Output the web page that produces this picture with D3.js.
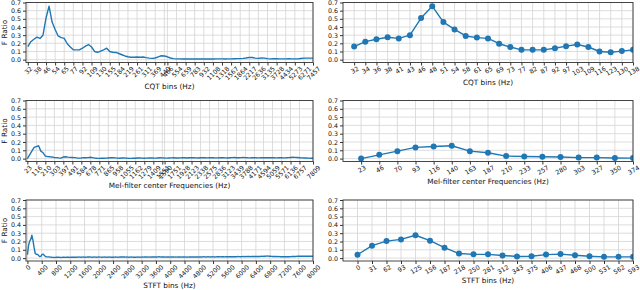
<!DOCTYPE html>
<html><head><meta charset="utf-8">
<script src="https://cdn.jsdelivr.net/npm/d3@7"></script>
<style>
body{margin:0;background:#fff}
svg{display:block}
</style>
</head><body>
<svg id="c" width="640" height="290"></svg>
<script>
// ---------------- DATA ----------------
const cqtValues = [
 0.16,0.22,0.25,0.275,0.26,0.30,0.51,0.655,0.46,0.37,0.29,0.27,0.26,0.195,0.155,0.12,0.12,0.12,0.14,0.165,0.185,0.155,0.10,0.09,0.105,0.12,
 0.14,0.10,0.09,0.088,0.075,0.06,0.045,0.035,0.03,0.03,0.032,0.03,0.033,0.025,0.018,0.015,
 0.02,0.035,0.048,0.045,0.035,0.02,0.012,0.010,0.009,0.008,0.009,0.008,0.007,0.008,0.007,0.008,
 0.009,0.008,0.007,0.008,0.009,0.010,0.009,0.008,0.009,0.010,0.011,0.012,0.013,0.015,0.020,0.028,
 0.026,0.018,0.016,0.020,0.018,0.012,0.010,0.011,0.012,0.010,0.009,0.010,0.011,0.010,0.009,0.010,
 0.014,0.018,0.018,0.019,0.018
];
const cqtTickIdx = [0,3,6,9,12,15,18,21,24,27,30,33,36,39,42,45,46,49,52,55,58,61,64,67,70,73,76,79,82,85,88,91,94];
const cqtTickLabels = ["32","38","46","54","65","77","92","109","130","155","184","219","261","311","369","440","466","554","659","783","932","1108","1318","1567","1864","2217","2636","3135","3728","4434","5273","6271","7457"];
const cqtZoomLabels = ["32","34","36","38","41","43","46","48","51","54","58","61","65","69","73","77","82","87","92","97","103","109","116","123","130","138"];

const melValues = [
 0.0,0.045,0.09,0.135,0.145,0.155,0.09,0.07,0.03,0.025,0.022,0.02,0.012,0.012,0.008,0.006,
 0.020,0.022,0.018,0.015,0.014,0.012,0.008,0.006,0.008,0.012,0.010,0.012,0.016,0.012,0.006,0.004,
 0.003,0.004,0.005,0.006,0.008,0.010,0.011,0.009,0.006,0.005,0.007,0.009,0.006,0.004,0.003,0.004,
 0.005,0.007,0.008,0.006,0.005,0.006,0.008,0.009,0.007,0.006,0.008,0.010,0.009,0.007,0.006,0.008,
 0.009,0.010,0.008,0.007,0.009,0.011,0.010,0.008,0.010,0.012,0.011,0.009,0.008,0.010,0.011,0.010,
 0.009,0.011,0.012,0.010,0.009,0.010,0.012,0.011,0.009,0.008,0.010,0.012,0.013,0.011,0.010,0.012,
 0.013,0.012,0.010,0.009,0.011,0.012,0.010,0.009,0.011,0.012,0.011,0.010,0.011,0.012,0.010,0.009,
 0.010,0.011,0.009,0.010,0.012,0.014,0.016,0.015,0.013,0.011,0.009,0.008,0.007,0.006,0.005,0.005
];
const melTickIdx = [0,4,8,12,16,20,24,28,32,36,40,44,48,52,56,60,61,65,69,73,77,81,85,89,93,97,101,105,109,113,117,121,127];
const melTickLabels = ["23","116","210","303","397","491","584","678","771","865","958","1055","1162","1279","1409","1551","1590","1751","1928","2123","2338","2575","2836","3123","3439","3788","4171","4594","5059","5571","6136","6757","7809"];
const melZoomLabels = ["23","46","70","93","116","140","163","187","210","233","257","280","303","327","350","374"];

const stftValues = [
 0.04,0.15,0.205,0.225,0.275,0.21,0.125,0.055,0.045,0.045,0.032,0.02,0.022,0.042,0.048,0.035,0.022,0.015,0.015,0.015,
 0.013,0.012,0.010,0.009,0.008,0.009,0.010,0.011,0.010,0.009,0.008,0.009,0.010,0.010,0.009,0.010,
 0.011,0.010,0.009,0.010,0.011,0.012,0.011,0.010,0.011,0.012,0.013,0.012,0.011,0.012,0.013,0.012,
 0.011,0.012,0.013,0.014,0.013,0.012,0.011,0.012,0.013,0.012,0.011,0.012,0.013,0.012,0.012,0.011,
 0.012,0.013,0.012,0.011,0.012,0.013,0.012,0.011,0.012,0.011,0.012,0.013,0.012,0.011,0.012,0.013,
 0.014,0.015,0.014,0.013,0.012,0.013,0.012,0.011,0.012,0.013,0.012,0.011,0.012,0.011,0.012,0.013,
 0.012,0.011,0.012,0.013,0.012,0.013,0.014,0.013,0.012,0.013,0.012,0.013,0.014,0.015,0.014,0.013,
 0.014,0.015,0.016,0.015,0.014,0.013,0.014,0.013,0.012,0.013,0.014,0.013,0.012,0.013,0.014,0.013,
 0.012,0.013,0.012,0.013,0.014,0.013,0.012,0.013,0.014,0.013,0.012,0.013,0.012,0.013,0.014,0.013,
 0.014,0.015,0.014,0.013,0.014,0.015,0.014,0.013,0.014,0.015,0.016,0.015,0.014,0.015,0.016,0.015,
 0.014,0.015,0.016,0.015,0.014,0.015,0.016,0.017,0.016,0.015,0.016,0.017,0.016,0.015,0.016,0.017,
 0.016,0.017,0.018,0.017,0.016,0.017,0.018,0.017,0.018,0.019,0.018,0.017,0.018,0.019,0.018,0.019,
 0.018,0.019,0.020,0.019,0.018,0.019,0.020,0.021,0.020,0.019,0.020,0.021,0.020,0.021,0.022,0.021,
 0.022,0.023,0.024,0.025,0.024,0.023,0.022,0.021,0.020,0.019,0.020,0.019,0.018,0.019,0.018,0.017,
 0.018,0.017,0.018,0.017,0.016,0.017,0.018,0.017,0.018,0.019,0.020,0.019,0.020,0.021,0.022,0.023,
 0.024,0.023,0.024,0.023,0.022,0.023,0.024,0.023,0.022,0.023,0.022,0.023,0.022
];
const stftBinHz = 31.25;
const stftTickHz = [0,400,800,1200,1600,2000,2400,2800,3200,3600,4000,4400,4800,5200,5600,6000,6400,6800,7200,7600,8000];
const stftTickLabels = ["0","400","800","1200","1600","2000","2400","2800","3200","3600","4000","4400","4800","5200","5600","6000","6400","6800","7200","7600","8000"];
const stftZoomLabels = ["0","31","62","93","125","156","187","218","250","281","312","343","375","406","437","468","500","531","562","593"];

const yTicks = [0,0.1,0.2,0.3,0.4,0.5,0.6,0.7];
const yTickLabels = ["0.0","0.1","0.2","0.3","0.4","0.5","0.6","0.7"];

// ---------------- DRAW ----------------
const FONT = "DejaVu Sans, sans-serif";
const TICK_FS = 6.3;
const LABEL_FS = 7.3;
const svg = d3.select("#c");
const defs = svg.append("defs");
let clipId = 0;

function panel(o){
  const g = svg.append("g");
  const x = d3.scaleLinear().domain(o.xDomain).range([o.x0, o.x0 + o.w]);
  const y = d3.scaleLinear().domain([-0.035, 0.7]).range([o.y0 + o.h, o.y0]);
  const id = "clip" + (clipId++);
  defs.append("clipPath").attr("id", id).append("rect")
    .attr("x", o.x0).attr("y", o.y0).attr("width", o.w).attr("height", o.h);

  // grid
  g.append("g").selectAll("line").data(o.tickPos).join("line")
    .attr("x1", d => x(d)).attr("x2", d => x(d))
    .attr("y1", o.y0).attr("y2", o.y0 + o.h)
    .attr("stroke", "#d4d4d4").attr("stroke-width", 0.8);
  g.append("g").selectAll("line").data(yTicks).join("line")
    .attr("x1", o.x0).attr("x2", o.x0 + o.w)
    .attr("y1", d => y(d)).attr("y2", d => y(d))
    .attr("stroke", "#d4d4d4").attr("stroke-width", 0.8);

  // series
  const pts = o.values.map((v, i) => [o.xOf(i), v]);
  const plot = g.append("g").attr("clip-path", `url(#${id})`);
  plot.append("path").datum(pts)
    .attr("d", d3.line().x(d => x(d[0])).y(d => y(d[1])))
    .attr("fill", "none").attr("stroke", "#1f77b4")
    .attr("stroke-width", 1.4).attr("stroke-linejoin", "round");
  if (o.markers) {
    plot.append("g").selectAll("circle").data(pts).join("circle")
      .attr("cx", d => x(d[0])).attr("cy", d => y(d[1])).attr("r", 3)
      .attr("fill", "#1f77b4");
  }

  // frame
  g.append("rect").attr("x", o.x0).attr("y", o.y0).attr("width", o.w).attr("height", o.h)
    .attr("fill", "none").attr("stroke", "#333").attr("stroke-width", 0.9);

  // y axis
  const ay = g.append("g").attr("transform", `translate(${o.x0},0)`)
    .call(d3.axisLeft(y).tickValues(yTicks).tickFormat((d, i) => yTickLabels[i]).tickSize(3).tickPadding(2));
  ay.select(".domain").remove();
  ay.attr("font-family", FONT).attr("font-size", TICK_FS);
  ay.selectAll("line").attr("stroke", "#333");
  ay.selectAll("text").attr("fill", "#111");

  // x axis
  const fs = TICK_FS;
  const ax = g.append("g").attr("transform", `translate(0,${o.y0 + o.h})`)
    .call(d3.axisBottom(x).tickValues(o.tickPos).tickFormat((d, i) => o.tickLabels[i]).tickSize(3));
  ax.select(".domain").remove();
  ax.attr("font-family", FONT).attr("font-size", fs);
  ax.selectAll("line").attr("stroke", "#333");
  const th = o.rot * Math.PI / 180;
  ax.selectAll("text").each(function(){
    const t = d3.select(this);
    t.attr("y", null).attr("dy", null).attr("x", null).attr("fill", "#111");
    const L = this.getComputedTextLength();
    const fh = fs * 0.85;
    const H = L * Math.sin(th) + fh * Math.cos(th);
    t.attr("text-anchor", "middle").attr("dominant-baseline", "central")
      .attr("transform", `translate(0,${3 + H / 2}) rotate(${-o.rot})`);
  });
  const bb = ax.node().getBBox();
  g.append("text")
    .attr("x", o.x0 + o.w / 2)
    .attr("y", o.y0 + o.h + bb.y + bb.height + 2.5 + LABEL_FS * 0.76)
    .attr("text-anchor", "middle").attr("font-family", FONT).attr("font-size", LABEL_FS)
    .attr("fill", "#111").text(o.xlabel);

  if (o.ylabel) {
    g.append("text")
      .attr("transform", `translate(${o.x0 - 19},${o.y0 + o.h / 2}) rotate(-90)`)
      .attr("text-anchor", "middle").attr("font-family", FONT).attr("font-size", LABEL_FS)
      .attr("fill", "#111").text(o.ylabel);
  }
}

const rows = [{y0: 2.5, h: 60}, {y0: 100.5, h: 61}, {y0: 200, h: 61}];
const L = {x0: 26, w: 287};
const R = {x0: 343, w: 290};

// Row 1: CQT
panel({x0: L.x0, w: L.w, y0: rows[0].y0, h: rows[0].h, values: cqtValues,
  xOf: i => i, xDomain: [-0.6, cqtValues.length - 1],
  tickPos: cqtTickIdx, tickLabels: cqtTickLabels, rot: 45,
  xlabel: "CQT bins (Hz)", ylabel: "F Ratio"});
panel({x0: R.x0, w: R.w, y0: rows[0].y0, h: rows[0].h, values: cqtValues.slice(0, cqtZoomLabels.length),
  xOf: i => i, xDomain: [-1, cqtZoomLabels.length - 1],
  tickPos: d3.range(cqtZoomLabels.length), tickLabels: cqtZoomLabels, rot: 30, markers: true,
  xlabel: "CQT bins (Hz)"});

// Row 2: Mel
panel({x0: L.x0, w: L.w, y0: rows[1].y0, h: rows[1].h, values: melValues,
  xOf: i => i, xDomain: [-0.6, melValues.length - 1],
  tickPos: melTickIdx, tickLabels: melTickLabels, rot: 45,
  xlabel: "Mel-filter center Frequencies (Hz)", ylabel: "F Ratio"});
panel({x0: R.x0, w: R.w, y0: rows[1].y0, h: rows[1].h, values: melValues.slice(0, melZoomLabels.length),
  xOf: i => i, xDomain: [-1, melZoomLabels.length - 1],
  tickPos: d3.range(melZoomLabels.length), tickLabels: melZoomLabels, rot: 30, markers: true,
  xlabel: "Mel-filter center Frequencies (Hz)"});

// Row 3: STFT
panel({x0: L.x0, w: L.w, y0: rows[2].y0, h: rows[2].h, values: stftValues,
  xOf: i => i * stftBinHz, xDomain: [-40, 8000],
  tickPos: stftTickHz, tickLabels: stftTickLabels, rot: 45,
  xlabel: "STFT bins (Hz)", ylabel: "F Ratio"});
panel({x0: R.x0, w: R.w, y0: rows[2].y0, h: rows[2].h, values: stftValues.slice(0, stftZoomLabels.length),
  xOf: i => i, xDomain: [-1, stftZoomLabels.length - 1],
  tickPos: d3.range(stftZoomLabels.length), tickLabels: stftZoomLabels, rot: 30, markers: true,
  xlabel: "STFT bins (Hz)"});
</script>
</body></html>
